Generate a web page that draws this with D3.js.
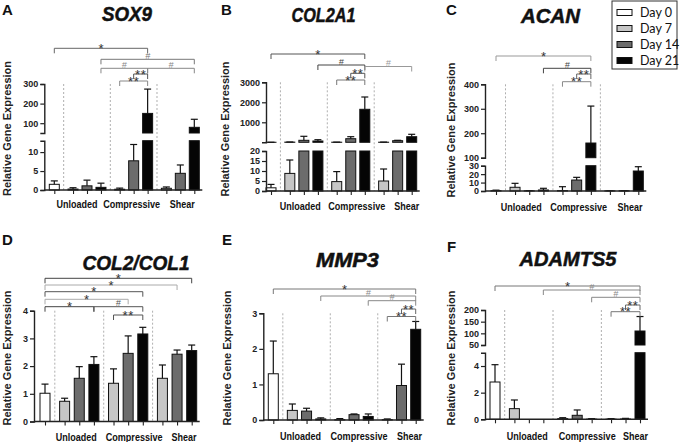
<!DOCTYPE html>
<html><head><meta charset="utf-8">
<script src="https://cdn.jsdelivr.net/npm/d3@7"></script>
<style>body{margin:0;background:#fff} svg{display:block}</style>
</head><body>
<svg id="chart" width="680" height="442"></svg>
<script>
// ---------- DATA ----------
const groupNames = ["Unloaded", "Compressive", "Shear"];
const dayNames = ["Day 0", "Day 7", "Day 14", "Day 21"];
// bar slots: Day0, then Unloaded D7/D14/D21, Compressive D7/D14/D21, Shear D7/D14/D21
const barDay   = [0, 1, 2, 3, 1, 2, 3, 1, 2, 3];
const barGroup = [-1, 0, 0, 0, 1, 1, 1, 2, 2, 2];

const sox9Mean = [1.5, 0.25, 1.1, 0.7, 0.2, 7.7, 150, 0.45, 4.4, 79];
const sox9Err  = [0.9, 0.35, 1.5, 1.1, 0.3, 4.3, 124, 0.35, 2.2, 41];
const sox9Segs = [[0, 13], [50, 300]];
const sox9Ticks = [[0, 5, 10], [100, 200, 300]];
const sox9Sig = [[0, 6, "*"], [3, 9, "#"], [3, 6, "#"], [6, 9, "#"], [5, 6, "**"], [4, 6, "**"]];

const col2a1Mean = [1.6, 8.8, 100, 65, 4.7, 180, 1650, 5, 80, 280];
const col2a1Err  = [1.7, 6.7, 200, 65, 5, 100, 615, 6, 20, 120];
const col2a1Segs = [[0, 20], [0, 3000]];
const col2a1Ticks = [[0, 5, 10, 15, 20], [1000, 2000, 3000]];
const col2a1Sig = [[0, 6, "*"], [3, 6, "#"], [6, 9, "#"], [5, 6, "**"], [4, 6, "**"]];

const acanMean = [0.4, 4.4, 0.2, 1.2, 0.5, 13, 160, 0.2, 0.3, 23.7];
const acanErr  = [0.6, 4.7, 0.2, 2, 4.6, 3.2, 151, 0.1, 0.1, 5.1];
const acanSegs = [[0, 30], [100, 400]];
const acanTicks = [[0, 10, 20, 30], [100, 200, 300, 400]];
const acanSig = [[0, 6, "*"], [3, 6, "#"], [5, 6, "**"], [4, 6, "**"]];

const colRatioMean = [1.02, 0.73, 1.56, 2.06, 1.38, 2.46, 3.16, 1.56, 2.43, 2.56];
const colRatioErr  = [0.33, 0.11, 0.42, 0.28, 0.52, 0.63, 0.24, 0.48, 0.15, 0.2];
const colRatioSegs = [[0, 4]];
const colRatioTicks = [[0, 1, 2, 3, 4]];
const colRatioSig = [[0, 9, "*"], [0, 8, "*"], [0, 6, "*"], [0, 5, "*"], [0, 3, "*"], [3, 6, "#"], [4, 6, "**"]];

const mmp3Mean = [1.3, 0.27, 0.25, 0.03, 0.01, 0.15, 0.1, 0.01, 0.97, 2.55];
const mmp3Err  = [0.92, 0.18, 0.08, 0.03, 0.03, 0.02, 0.07, 0.02, 0.6, 0.22];
const mmp3Segs = [[0, 3]];
const mmp3Ticks = [[0, 1, 2, 3]];
const mmp3Sig = [[0, 9, "*"], [3, 9, "#"], [6, 9, "#"], [8, 9, "**"], [7, 9, "**"]];

const adamts5Mean = [2.8, 0.8, 0, 0, 0.05, 0.3, 0.01, 0.01, 0.02, 110];
const adamts5Err  = [1.3, 0.65, 0, 0, 0.07, 0.4, 0.04, 0.04, 0.05, 62];
const adamts5Segs = [[0, 5], [50, 200]];
const adamts5Ticks = [[0, 2, 4], [50, 100, 150, 200]];
const adamts5Sig = [[0, 9, "*"], [3, 9, "#"], [6, 9, "#"], [8, 9, "**"], [7, 9, "**"]];

const panels = [
  {letter: "A", title: "SOX9", mean: sox9Mean, err: sox9Err, segs: sox9Segs, ticks: sox9Ticks, sig: sox9Sig},
  {letter: "B", title: "COL2A1", mean: col2a1Mean, err: col2a1Err, segs: col2a1Segs, ticks: col2a1Ticks, sig: col2a1Sig},
  {letter: "C", title: "ACAN", mean: acanMean, err: acanErr, segs: acanSegs, ticks: acanTicks, sig: acanSig},
  {letter: "D", title: "COL2/COL1", mean: colRatioMean, err: colRatioErr, segs: colRatioSegs, ticks: colRatioTicks, sig: colRatioSig},
  {letter: "E", title: "MMP3", mean: mmp3Mean, err: mmp3Err, segs: mmp3Segs, ticks: mmp3Ticks, sig: mmp3Sig},
  {letter: "F", title: "ADAMTS5", mean: adamts5Mean, err: adamts5Err, segs: adamts5Segs, ticks: adamts5Ticks, sig: adamts5Sig}
];

// ---------- LAYOUT ----------
// title: [centre x, baseline y, rendered width]
const layouts = [
  {axisX: 44.3, x0: 54.3, x1: 194.3, segR: [[190, 140.7], [133, 84]], letter: [2, 15], title: [127, 20.5, 50], ylab: [7, 128.5],
   glY: 207.5, glDx: [-10, -2, 2], sigY: [48.3, 59.3, 68.3, 68.3, 74, 81], sigC: ["#666", "#777", "#888", "#888", "#555", "#888"]},
  {axisX: 266, x0: 271, x1: 411.7, segR: [[191, 151], [142.3, 82.3]], letter: [221, 15], title: [323.5, 21.5, 64], ylab: [225, 129],
   glY: 209.5, glDx: [-3.5, 6, 9], sigY: [54, 65, 66.5, 73.3, 80], sigC: ["#555", "#444", "#999", "#555", "#777"]},
  {axisX: 485, x0: 496, x1: 638.3, segR: [[191, 165.7], [157.7, 84.3]], letter: [446, 15], title: [550.5, 23, 59], ylab: [451, 130],
   glY: 210.5, glDx: [-8, 2, 6], sigY: [56, 68.3, 74, 81.7], sigC: ["#999", "#444", "#666", "#888"]},
  {axisX: 34, x0: 45, x1: 191.7, segR: [[421.5, 310.7]], letter: [2, 245], title: [136, 270, 107], ylab: [7, 358],
   glY: 440.5, glDx: [-3, 6, 7], sigY: [278.3, 285, 291.7, 299.3, 306.7, 306.7, 315], sigC: ["#444", "#aaa", "#555", "#aaa", "#444", "#555", "#555"]},
  {axisX: 263.3, x0: 273.3, x1: 415.7, segR: [[420, 313.3]], letter: [222, 245], title: [347.5, 267, 63], ylab: [227, 358],
   glY: 440, glDx: [-6, 5, 8], sigY: [289, 296, 300.7, 309, 316.5], sigC: ["#777", "#888", "#888", "#666", "#777"]},
  {axisX: 485, x0: 495, x1: 640, segR: [[419.3, 352.7], [345, 310]], letter: [447, 252], title: [568, 266, 97], ylab: [451, 358],
   glY: 439.5, glDx: [-1.5, 10, 10], sigY: [286, 290, 297.3, 305, 311.7], sigC: ["#777", "#888", "#888", "#666", "#777"]}
];
const groupLabelWidths = [41, 57, 25];

const fills = ["#ffffff", "#c6c6c6", "#6c6c6c", "#050505"];
const gapUnits = 0.34;
const svg = d3.select("#chart");
const sansB = "'Liberation Sans', Arial, sans-serif";
const humanist = "Lato, 'Open Sans', sans-serif";

function drawPanel(p, L) {
  const g = svg.append("g");
  const pos = barDay.map((d, i) => i + gapUnits * (barGroup[i] + 1));
  const x = d3.scaleLinear().domain([0, pos[pos.length - 1]]).range([L.x0, L.x1]);
  const segs = p.segs.map((dom, k) => ({dom, ticks: p.ticks[k], y: d3.scaleLinear().domain(dom).range(L.segR[k])}));
  const yBot = L.segR[0][0];
  const yTop = L.segR[L.segR.length - 1][1];
  const bw = 10;

  // separators
  const seps = [(pos[0] + pos[1]) / 2, (pos[3] + pos[4]) / 2, (pos[6] + pos[7]) / 2];
  g.selectAll(".sep").data(seps).join("line")
    .attr("x1", d => x(d)).attr("x2", d => x(d)).attr("y1", yTop).attr("y2", yBot)
    .attr("stroke", "#9a9a9a").attr("stroke-width", 0.8).attr("stroke-dasharray", "2,2");

  // bars (split over axis segments when the axis is broken)
  p.mean.forEach((v, i) => {
    const cx = x(pos[i]);
    const fill = fills[barDay[i]];
    segs.forEach((s, k) => {
      const [d0, d1] = s.dom;
      if (k > 0 && v <= d0) return;
      const top = Math.min(v, d1);
      g.append("rect").attr("x", cx - bw / 2).attr("width", bw)
        .attr("y", s.y(top)).attr("height", Math.max(0, s.y(d0) - s.y(top)))
        .attr("fill", fill).attr("stroke", "#111").attr("stroke-width", 1);
      const valueHere = v <= d1 || k === segs.length - 1;
      if (valueHere && p.err[i] > 0) {
        const ye = s.y(Math.min(v + p.err[i], d1));
        g.append("line").attr("x1", cx).attr("x2", cx).attr("y1", s.y(v)).attr("y2", ye)
          .attr("stroke", "#111").attr("stroke-width", 1.2);
        g.append("line").attr("x1", cx - 3.5).attr("x2", cx + 3.5).attr("y1", ye).attr("y2", ye)
          .attr("stroke", "#111").attr("stroke-width", 1.2);
      }
    });
  });

  // y axes
  segs.forEach(s => {
    const ax = g.append("g").attr("transform", `translate(${L.axisX},0)`)
      .call(d3.axisLeft(s.y).tickValues(s.ticks).tickSize(4).tickSizeOuter(4).tickPadding(2).tickFormat(d3.format("d")));
    ax.selectAll("path").attr("stroke", "#222").attr("stroke-width", 1.4);
    ax.selectAll("line").attr("stroke", "#222").attr("stroke-width", 1.2);
    ax.selectAll("text").attr("font-family", sansB).attr("font-weight", "bold").attr("font-size", 9).attr("fill", "#222");
  });

  // x axis
  g.append("line").attr("x1", L.axisX).attr("x2", L.x1 + 8).attr("y1", yBot).attr("y2", yBot)
    .attr("stroke", "#222").attr("stroke-width", 1.4);
  const xa = g.append("g").attr("transform", `translate(0,${yBot})`)
    .call(d3.axisBottom(x).tickValues(pos).tickSize(4).tickSizeOuter(0).tickFormat(""));
  xa.select("path").remove();
  xa.selectAll("line").attr("stroke", "#222").attr("stroke-width", 1.1);

  // group labels
  groupNames.forEach((name, gi) => {
    const idx = barGroup.map((gg, i) => gg === gi ? i : -1).filter(i => i >= 0);
    const cx = x((pos[idx[0]] + pos[idx[idx.length - 1]]) / 2) + L.glDx[gi];
    g.append("text").attr("x", cx - groupLabelWidths[gi] / 2).attr("y", L.glY)
      .attr("textLength", groupLabelWidths[gi]).attr("lengthAdjust", "spacingAndGlyphs")
      .attr("font-family", sansB).attr("font-weight", "bold").attr("font-size", 11.5).attr("fill", "#111").text(name);
  });

  // significance brackets
  p.sig.forEach((b, j) => {
    const [a, c, lab] = b;
    const xa0 = x(pos[a]), xc = x(pos[c]), yy = L.sigY[j], col = L.sigC[j];
    g.append("path").attr("d", `M${xa0},${yy + 5}V${yy}H${xc}V${yy + 5}`)
      .attr("fill", "none").attr("stroke", col).attr("stroke-width", 1);
    const isHash = lab === "#";
    g.append("text").attr("x", (xa0 + xc) / 2).attr("y", isHash ? yy - 0.5 : yy + 4.5)
      .attr("text-anchor", "middle").attr("font-family", sansB)
      .attr("font-size", isHash ? 9 : 13).attr("font-style", isHash ? "italic" : "normal")
      .attr("letter-spacing", lab === "**" ? 0.5 : 0)
      .attr("fill", isHash ? col : "#333").text(lab);
  });

  // titles and labels
  g.append("text").attr("x", L.letter[0]).attr("y", L.letter[1]).attr("font-family", sansB)
    .attr("font-weight", "bold").attr("font-size", 15).attr("fill", "#111").text(p.letter);
  g.append("text").attr("x", L.title[0] - L.title[2] / 2).attr("y", L.title[1])
    .attr("textLength", L.title[2]).attr("lengthAdjust", "spacingAndGlyphs")
    .attr("font-family", sansB).attr("font-weight", "bold").attr("font-style", "italic")
    .attr("font-size", 20).attr("fill", "#111").attr("stroke", "#111").attr("stroke-width", 0.5).text(p.title);
  g.append("text").attr("transform", `translate(${L.ylab[0]},${L.ylab[1]}) rotate(-90)`)
    .attr("text-anchor", "middle").attr("dominant-baseline", "central")
    .attr("font-family", sansB).attr("font-weight", "bold").attr("font-size", 11).attr("fill", "#222")
    .text("Relative Gene Expression");
}

panels.forEach((p, i) => drawPanel(p, layouts[i]));

// legend
const lg = svg.append("g");
lg.append("rect").attr("x", 612).attr("y", 1).attr("width", 65).attr("height", 68)
  .attr("fill", "#fff").attr("stroke", "#333").attr("stroke-width", 1);
dayNames.forEach((name, i) => {
  const cy = 12.5 + i * 16;
  lg.append("rect").attr("x", 617).attr("y", cy - 3).attr("width", 15).attr("height", 6)
    .attr("fill", fills[i]).attr("stroke", "#111").attr("stroke-width", 1);
  lg.append("text").attr("x", 640).attr("y", cy + 4.2).attr("font-family", humanist)
    .attr("font-size", 12.5).attr("fill", "#111").text(name);
});
</script>
</body></html>
